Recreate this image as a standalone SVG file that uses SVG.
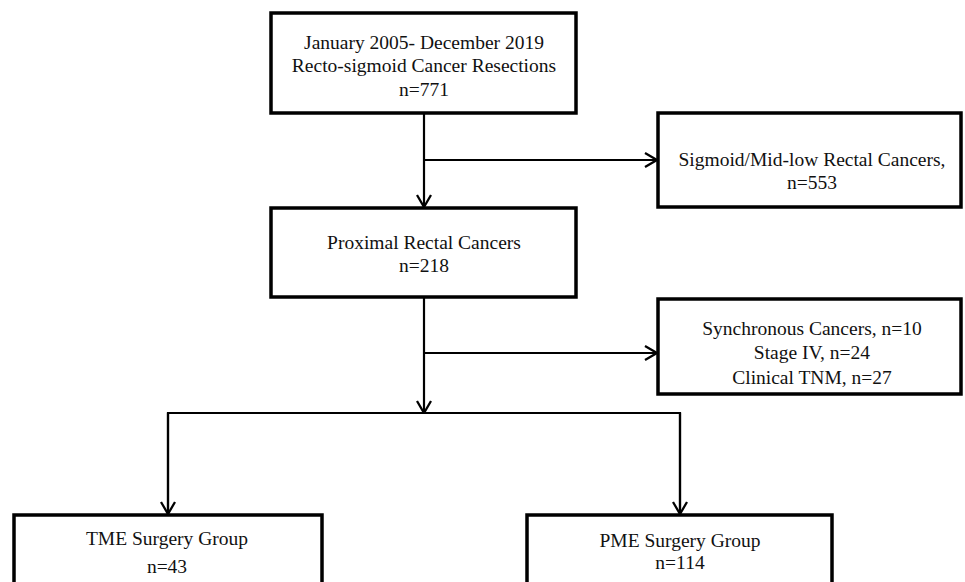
<svg xmlns="http://www.w3.org/2000/svg" width="965" height="582" viewBox="0 0 965 582">
<defs>
<style>
.box{fill:#fff;stroke:#000;stroke-width:3.5}
.t{font-family:"Liberation Serif","Times New Roman",serif;font-size:19.5px;fill:#111;text-anchor:middle}
.c{fill:none;stroke:#000;stroke-width:2.2}
</style>
<marker id="arr" viewBox="0 0 14 16" refX="13" refY="8" markerWidth="14" markerHeight="16" markerUnits="userSpaceOnUse" orient="auto">
<path d="M1,1 L13,8 L1,15" fill="none" stroke="#000" stroke-width="2.3"/>
</marker>
</defs>
<rect width="965" height="582" fill="#fff"/>
<g id="connectors">
<line class="c" x1="424" y1="113" x2="424" y2="207" marker-end="url(#arr)"/>
<line class="c" x1="424" y1="160" x2="657" y2="160" marker-end="url(#arr)"/>
<line class="c" x1="424" y1="297" x2="424" y2="413" marker-end="url(#arr)"/>
<line class="c" x1="424" y1="353" x2="657" y2="353" marker-end="url(#arr)"/>
<polyline class="c" points="168,514 168,413 680,413 680,514"/>
<line class="c" x1="168" y1="413" x2="168" y2="514" marker-end="url(#arr)"/>
<line class="c" x1="680" y1="413" x2="680" y2="514" marker-end="url(#arr)"/>
</g>
<g id="n1">
<rect class="box" x="271" y="13" width="305" height="100"/>
<text class="t" x="424" y="49">January 2005- December 2019</text>
<text class="t" x="424" y="72">Recto-sigmoid Cancer Resections</text>
<text class="t" x="424" y="96">n=771</text>
</g>
<g id="n2">
<rect class="box" x="658" y="113" width="303" height="94"/>
<text class="t" x="812" y="166">Sigmoid/Mid-low Rectal Cancers,</text>
<text class="t" x="812" y="189">n=553</text>
</g>
<g id="n3">
<rect class="box" x="271" y="208" width="305" height="89"/>
<text class="t" x="424" y="249">Proximal Rectal Cancers</text>
<text class="t" x="424" y="272">n=218</text>
</g>
<g id="n4">
<rect class="box" x="658" y="299" width="303" height="95"/>
<text class="t" x="812" y="335">Synchronous Cancers, n=10</text>
<text class="t" x="812" y="359">Stage IV, n=24</text>
<text class="t" x="812" y="384">Clinical TNM, n=27</text>
</g>
<g id="n5">
<rect class="box" x="14" y="515" width="308" height="90"/>
<text class="t" x="167" y="545">TME Surgery Group</text>
<text class="t" x="167" y="573">n=43</text>
</g>
<g id="n6">
<rect class="box" x="527" y="515" width="305" height="90"/>
<text class="t" x="680" y="547">PME Surgery Group</text>
<text class="t" x="680" y="569">n=114</text>
</g>
</svg>
